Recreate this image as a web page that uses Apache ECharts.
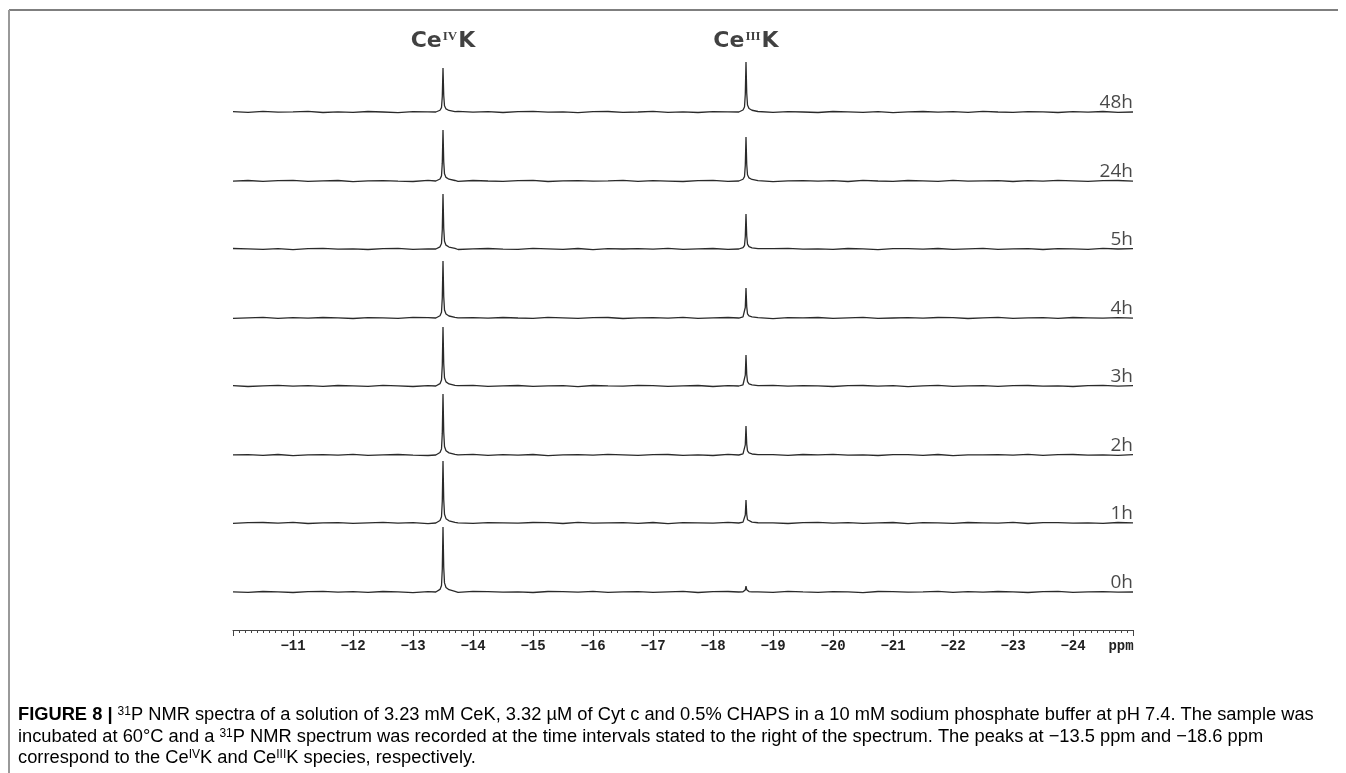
<!DOCTYPE html>
<html>
<head>
<meta charset="utf-8">
<script src="https://cdn.jsdelivr.net/npm/echarts@6/dist/echarts.min.js"></script>
<style>
  html, body { margin: 0; padding: 0; background: #fff; }
  #chart { width: 1346px; height: 773px; }
</style>
</head>
<body>
<div id="chart"></div>
<script>
// 31P NMR stack: CeK hydrolysis over time, 8 spectra offset vertically.
const timeLabels = ['48h', '24h', '5h', '4h', '3h', '2h', '1h', '0h'];
// vertical offset of each baseline (px above the ppm axis)
const baselines = [518, 449, 381, 312, 244, 175, 107, 38];
const peakPpm = [-13.5, -18.55];
const peakNames = ['IV', 'III'];
// peak heights per spectrum
const ceIVHeight = [44, 51, 55, 57, 59, 61, 62, 65];
const ceIIIHeight = [50, 44, 35, 30, 31, 29, 23, 6];

// line shape of one narrow resonance: ppm offset (upfield) -> fraction of height
const shapeOffset = [-0.12, -0.05, -0.025, -0.012, 0, 0.012, 0.025, 0.05, 0.1, 0.2];
const shapeFrac = [0.0, 0.04, 0.1, 0.35, 1, 0.38, 0.14, 0.07, 0.035, 0.01];

// baseline sample positions and the noise
const samplePpm = [
  -10, -10.25, -10.5, -10.75, -11, -11.25, -11.5, -11.75, -12, -12.25,
  -12.5, -12.75, -13, -13.25, -13.5, -13.75, -14, -14.25, -14.5, -14.75,
  -15, -15.25, -15.5, -15.75, -16, -16.25, -16.5, -16.75, -17, -17.25,
  -17.5, -17.75, -18, -18.25, -18.5, -18.75, -19, -19.25, -19.5, -19.75,
  -20, -20.25, -20.5, -20.75, -21, -21.25, -21.5, -21.75, -22, -22.25,
  -22.5, -22.75, -23, -23.25, -23.5, -23.75, -24, -24.25, -24.5, -24.75,
  -25,
];
const noise48h = [
  0.3, -0.4, 0.6, -0.2, 0.1, 0.7, -0.5, 0.2, -0.3, 0.5,
  0, -0.6, 0.4, 0.2, -0.3, 0.6, -0.1, 0.3, -0.5, 0.4,
  0.7, -0.2, 0.1, -0.6, 0.3, 0.5, -0.4, 0, 0.6, -0.3,
  0.2, -0.5, 0.4, 0.1, -0.2, 0.6, -0.4, 0.3, 0, -0.5,
  0.5, 0.2, -0.3, 0.4, -0.6, 0.1, 0.5, -0.2, 0.3, -0.4,
  0.6, 0, -0.3, 0.4, 0.2, -0.5, 0.3, -0.1, 0.5, -0.3,
  0,
];
const noise24h = [
  -0.2, 0.5, -0.3, 0.4, 0.7, -0.4, 0.1, 0.5, -0.6, 0.2,
  0.4, -0.1, -0.5, 0.6, 0.2, -0.3, 0.5, 0, -0.4, 0.3,
  0.6, -0.5, 0.2, 0.4, -0.2, 0.1, 0.6, -0.4, 0.3, -0.1,
  -0.5, 0.4, 0.7, -0.3, 0.2, 0.5, -0.6, 0.1, 0.4, -0.2,
  0.3, -0.5, 0.6, 0, -0.3, 0.5, 0.2, -0.4, 0.6, -0.1,
  0.2, 0.4, -0.5, 0.3, -0.2, 0.6, 0.1, -0.4, 0.3, 0.5,
  -0.2,
];
const noise5h = [
  0.5, 0.1, -0.4, 0.3, -0.6, 0.4, 0.6, -0.2, 0.2, -0.5,
  0.3, 0.6, -0.3, 0.1, 0.4, -0.5, 0.2, 0.5, -0.1, -0.4,
  0.6, 0.2, -0.3, 0.5, -0.6, 0.3, 0, 0.4, -0.2, 0.6,
  -0.4, 0.1, 0.5, -0.3, 0.3, -0.5, 0.4, 0.6, -0.2, 0.1,
  -0.4, 0.5, 0.2, -0.6, 0.3, 0.4, -0.1, 0.5, -0.3, 0.2,
  0.6, -0.4, 0.1, 0.3, -0.5, 0.4, 0.2, -0.3, 0.6, 0,
  0.3,
];
const noise4h = [
  -0.3, 0.2, 0.6, -0.4, 0.3, -0.1, 0.5, 0.2, -0.5, 0.4,
  0.1, -0.3, 0.6, 0.3, -0.6, 0.2, 0.4, -0.2, 0.5, 0,
  -0.4, 0.6, 0.2, -0.3, 0.4, 0.5, -0.5, 0.1, 0.3, -0.2,
  0.6, -0.4, 0.2, 0.5, -0.1, 0.3, -0.6, 0.4, 0.1, 0.5,
  -0.3, 0.2, 0.6, -0.4, 0, 0.4, -0.2, 0.5, 0.3, -0.5,
  0.2, 0.6, -0.3, 0.1, 0.4, -0.4, 0.5, 0.2, -0.2, 0.4,
  -0.1,
];
const noise3h = [
  0.4, -0.5, 0.2, 0.6, -0.1, 0.3, -0.4, 0.5, 0.1, -0.3,
  0.6, 0.2, -0.5, 0.4, -0.2, 0.3, 0.6, -0.4, 0.1, 0.5,
  -0.3, 0.2, 0.4, -0.6, 0.5, 0.1, -0.2, 0.6, 0.3, -0.4,
  0.2, 0.5, -0.5, 0.3, 0.1, -0.3, 0.6, -0.1, 0.4, 0.2,
  -0.5, 0.3, 0.5, -0.2, 0.4, -0.6, 0.2, 0.6, -0.3, 0.1,
  0.4, -0.4, 0.3, 0.5, -0.1, 0.2, -0.5, 0.4, 0.6, -0.2,
  0.3,
];
const noise2h = [
  0.1, 0.4, -0.3, 0.5, -0.6, 0.2, 0.3, -0.1, 0.6, -0.4,
  0.2, 0.5, -0.2, -0.5, 0.4, 0.1, 0.6, -0.3, 0.3, -0.1,
  0.5, -0.6, 0.2, 0.4, -0.2, 0.6, 0.1, -0.4, 0.3, 0.5,
  -0.3, 0.2, -0.5, 0.6, 0.4, -0.1, 0.3, -0.4, 0.5, 0.1,
  0.6, -0.2, 0.2, -0.5, 0.4, 0.3, -0.3, 0.5, -0.6, 0.2,
  0.1, 0.4, -0.2, 0.6, -0.4, 0.3, 0.5, -0.1, 0.2, -0.3,
  0.4,
];
const noise1h = [
  -0.4, 0.3, 0.5, -0.2, 0.6, -0.5, 0.1, 0.4, -0.3, 0.2,
  0.6, -0.1, 0.3, -0.6, 0.5, 0.2, -0.4, 0.4, 0.1, -0.2,
  0.5, 0.3, -0.5, 0.6, -0.1, 0.2, 0.4, -0.3, 0.5, -0.6,
  0.3, 0.1, -0.2, 0.6, -0.4, 0.4, 0.2, -0.5, 0.3, 0.6,
  -0.1, 0.4, -0.3, 0.2, 0.5, -0.6, 0.3, 0.1, -0.4, 0.5,
  0.2, -0.2, 0.6, -0.5, 0.3, 0.4, -0.1, 0.2, -0.4, 0.5,
  0.1,
];
const noise0h = [
  0.2, -0.3, 0.5, 0.1, -0.5, 0.4, 0.6, -0.2, 0.3, -0.4,
  0.5, 0.2, -0.6, 0.3, 0.1, -0.3, 0.6, 0.4, -0.1, 0.2,
  -0.5, 0.5, 0.3, -0.2, 0.6, -0.4, 0.1, 0.4, -0.3, 0.2,
  0.6, -0.5, 0.3, 0.5, -0.1, 0.2, -0.4, 0.6, 0.1, -0.3,
  0.4, 0.2, -0.6, 0.5, 0.3, -0.2, 0.1, 0.6, -0.4, 0.3,
  -0.1, 0.5, 0.2, -0.5, 0.4, 0.6, -0.3, 0.1, 0.3, -0.2,
  0,
];
const noise = [noise48h, noise24h, noise5h, noise4h, noise3h, noise2h, noise1h, noise0h];

const axisMin = -25;
const axisMax = -10;

function buildTrace(i) {
  const heights = [ceIVHeight[i], ceIIIHeight[i]];
  const pts = [];
  samplePpm.forEach((p, k) => {
    if (peakPpm.some(c => Math.abs(p - c) < 0.21)) return;
    pts.push([p, baselines[i] + (noise[i][k] || 0)]);
  });
  peakPpm.forEach((c, j) => {
    shapeOffset.forEach((o, k) => pts.push([c - o, baselines[i] + heights[j] * shapeFrac[k]]));
  });
  pts.sort((a, b) => b[0] - a[0]);
  return pts;
}

const series = timeLabels.map((name, i) => ({
  type: 'line',
  name,
  data: buildTrace(i),
  symbol: 'none',
  silent: true,
  lineStyle: { color: '#2a2a2a', width: 1.3 },
  z: 2,
}));

// time stamp sitting on the right end of each trace
series.push({
  type: 'scatter',
  data: timeLabels.map((name, i) => ({ value: [axisMin, baselines[i]], name })),
  symbolSize: 0,
  silent: true,
  label: {
    show: true,
    position: 'top',
    distance: 0,
    align: 'right',
    formatter: p => p.name,
    fontFamily: 'Open Sans',
    fontSize: 19,
    color: '#1a1a1a',
  },
});

// species labels above the two resonances
series.push({
  type: 'scatter',
  data: peakPpm.map((c, j) => ({ value: [c, 589], name: peakNames[j] })),
  symbolSize: 0,
  silent: true,
  clip: false,
  label: {
    show: true,
    position: 'inside',
    formatter: p => `{b|Ce}{s|${p.name}}{b|K}`,
    rich: {
      b: { fontFamily: 'DejaVu Sans', fontWeight: 'bold', fontSize: 22, color: '#111' },
      s: { fontFamily: 'Liberation Serif', fontWeight: 'bold', fontSize: 13, color: '#111', verticalAlign: 'top', padding: [0, 1, 0, 1] },
    },
  },
});

const capFont = "'Liberation Sans', Arial, sans-serif";
const capRich = {
  n: { fontFamily: capFont, fontSize: 18.3, color: '#333' },
  f: { fontFamily: capFont, fontSize: 18.3, color: '#333', fontWeight: 'bold' },
  s: { fontFamily: capFont, fontSize: 12, color: '#333', verticalAlign: 'top' },
};
const captionLines = [
  '{f|FIGURE 8 | }{s|31}{n|P NMR spectra of a solution of 3.23 mM CeK, 3.32 \u00b5M of Cyt c and 0.5% CHAPS in a 10 mM sodium phosphate buffer at pH 7.4. The sample was}',
  '{n|incubated at 60\u00b0C and a }{s|31}{n|P NMR spectrum was recorded at the time intervals stated to the right of the spectrum. The peaks at \u221213.5 ppm and \u221218.6 ppm}',
  '{n|correspond to the Ce}{s|IV}{n|K and Ce}{s|III}{n|K species, respectively.}',
];

const chart = echarts.init(document.getElementById('chart'), null, { renderer: 'canvas' });
chart.setOption({
  animation: false,
  grid: { left: 233, right: 213, top: 0, bottom: 143 },
  xAxis: {
    type: 'value',
    min: axisMin,
    max: axisMax,
    interval: 1,
    inverse: true,
    splitLine: { show: false },
    axisLine: { lineStyle: { color: '#444', width: 1 } },
    axisTick: { length: 6, lineStyle: { color: '#444' } },
    minorTick: { show: true, splitNumber: 10, length: 3, lineStyle: { color: '#444' } },
    axisLabel: {
      margin: 9,
      fontFamily: "'Liberation Mono', 'DejaVu Sans Mono', monospace",
      fontWeight: 'bold',
      fontSize: 14,
      color: '#222',
      formatter: v => (v === axisMax ? '' : v === axisMin ? '{p|ppm}' : String(v).replace('-', '\u2212')),
      rich: { p: { fontFamily: "'Liberation Mono', monospace", fontSize: 14, color: '#222', padding: [0, 24, 0, 0] } },
    },
  },
  yAxis: { type: 'value', min: 0, max: 630, show: false },
  series,
  graphic: [
    { type: 'line', shape: { x1: 9, y1: 10, x2: 1338, y2: 10 }, style: { stroke: '#555', lineWidth: 1.5 } },
    { type: 'line', shape: { x1: 9, y1: 10, x2: 9, y2: 773 }, style: { stroke: '#999', lineWidth: 2 } },
    ...captionLines.map((t, i) => ({
      type: 'text',
      left: 18,
      top: 706 + i * 21.5,
      style: { text: t, rich: capRich, font: `18.3px ${capFont}` },
    })),
  ],
});
</script>
</body>
</html>
